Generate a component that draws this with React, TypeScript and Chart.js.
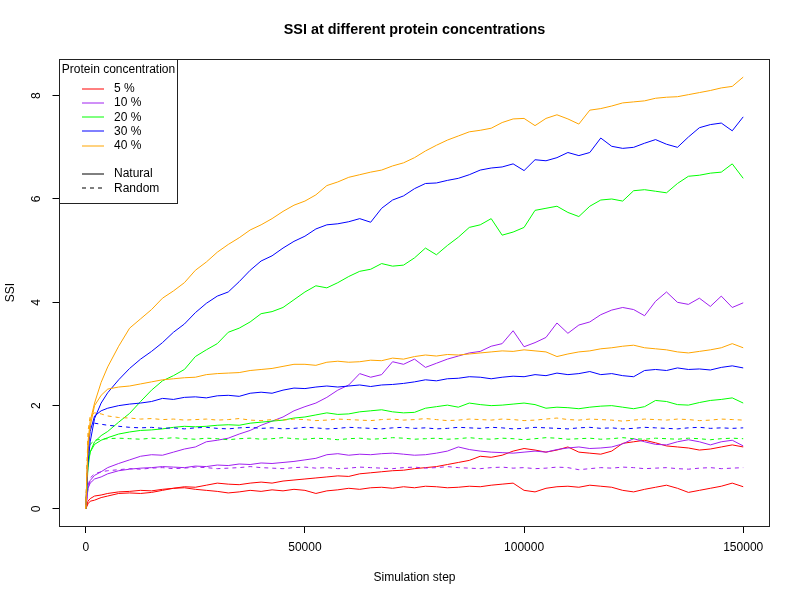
import { useEffect, useRef } from 'react';
import { Chart, registerables } from 'chart.js';

Chart.register(...registerables);

// ---- data ----
const steps = [
  0, 500, 1000, 2000, 3500, 5000, 7500, 10000, 12500, 15000, 17500, 20000, 22500, 25000,
  27500, 30000, 32500, 35000, 37500, 40000, 42500, 45000, 47500, 50000, 52500, 55000,
  57500, 60000, 62500, 65000, 67500, 70000, 72500, 75000, 77500, 80000, 82500, 85000,
  87500, 90000, 92500, 95000, 97500, 100000, 102500, 105000, 107500, 110000, 112500,
  115000, 117500, 120000, 122500, 125000, 127500, 130000, 132500, 135000, 137500,
  140000, 142500, 145000, 147500, 150000,
];

const xTicks = [0, 50000, 100000, 150000];
const yTicks = [0, 2, 4, 6, 8];

const concLabels = ['5 %', '10 %', '20 %', '30 %', '40 %'];
const concColors = ['#FF0000', '#A020F0', '#00FF00', '#0000FF', '#FFA500'];
const typeLabels = ['Natural', 'Random'];

// 40 %
const orangeNatural = [0, 1.3, 1.7, 2.05, 2.45, 2.75, 3.15, 3.5, 3.68, 3.86, 4.08, 4.22, 4.38, 4.62, 4.78, 4.97, 5.12, 5.25, 5.4, 5.5, 5.62, 5.76, 5.88, 5.96, 6.08, 6.26, 6.33, 6.42, 6.47, 6.52, 6.56, 6.64, 6.7, 6.8, 6.93, 7.04, 7.14, 7.22, 7.3, 7.33, 7.37, 7.48, 7.55, 7.56, 7.42, 7.56, 7.63, 7.55, 7.45, 7.72, 7.75, 7.8, 7.86, 7.88, 7.9, 7.95, 7.97, 7.98, 8.02, 8.06, 8.1, 8.15, 8.18, 8.36];
const orangeNatural2 = [0, 1.2, 1.6, 2.0, 2.2, 2.32, 2.36, 2.38, 2.42, 2.46, 2.5, 2.52, 2.54, 2.55, 2.6, 2.62, 2.63, 2.64, 2.68, 2.7, 2.72, 2.76, 2.8, 2.8, 2.78, 2.84, 2.86, 2.84, 2.85, 2.88, 2.87, 2.92, 2.9, 2.95, 2.98, 2.96, 2.99, 2.98, 3.0, 3.02, 3.04, 3.06, 3.05, 3.08, 3.06, 3.04, 2.95, 3.0, 3.04, 3.06, 3.1, 3.12, 3.15, 3.17, 3.12, 3.1, 3.08, 3.04, 3.02, 3.05, 3.08, 3.12, 3.2, 3.12];
const orangeRandom = [0, 1.5, 1.8, 1.86, 1.84, 1.8, 1.77, 1.76, 1.74, 1.75, 1.73, 1.74, 1.72, 1.73, 1.74, 1.72, 1.73, 1.75, 1.72, 1.71, 1.73, 1.72, 1.74, 1.73, 1.71, 1.72, 1.74, 1.73, 1.72, 1.71, 1.73, 1.74, 1.72, 1.73, 1.75, 1.73, 1.71, 1.72, 1.74, 1.73, 1.72, 1.74, 1.73, 1.71, 1.72, 1.74, 1.76, 1.73, 1.72, 1.74, 1.73, 1.72, 1.7, 1.72, 1.74, 1.73, 1.72, 1.74, 1.73, 1.71, 1.72, 1.74, 1.73, 1.72];

// 30 %
const blueNatural = [0, 0.9, 1.3, 1.75, 2.05, 2.25, 2.5, 2.72, 2.9, 3.05, 3.22, 3.42, 3.58, 3.8, 3.98, 4.12, 4.2, 4.4, 4.62, 4.8, 4.9, 5.05, 5.18, 5.28, 5.42, 5.5, 5.52, 5.56, 5.62, 5.55, 5.82, 5.98, 6.06, 6.2, 6.3, 6.31, 6.36, 6.4, 6.47, 6.56, 6.6, 6.62, 6.68, 6.55, 6.76, 6.74, 6.8, 6.9, 6.84, 6.9, 7.18, 7.02, 6.98, 7.0, 7.08, 7.15, 7.06, 7.0, 7.2, 7.38, 7.44, 7.47, 7.32, 7.59];
const blueNatural2 = [0, 1.1, 1.5, 1.8, 1.9, 1.95, 2.0, 2.03, 2.05, 2.08, 2.14, 2.12, 2.16, 2.17, 2.15, 2.19, 2.2, 2.18, 2.24, 2.26, 2.24, 2.3, 2.34, 2.33, 2.36, 2.38, 2.36, 2.38, 2.4, 2.37, 2.4, 2.41, 2.43, 2.46, 2.5, 2.48, 2.52, 2.53, 2.56, 2.55, 2.52, 2.55, 2.57, 2.56, 2.6, 2.58, 2.63, 2.6, 2.62, 2.66, 2.6, 2.62, 2.58, 2.56, 2.68, 2.7, 2.68, 2.73, 2.7, 2.71, 2.69, 2.74, 2.77, 2.73];
const blueRandom = [0, 1.3, 1.6, 1.66, 1.64, 1.62, 1.6, 1.58, 1.57, 1.58, 1.56, 1.57, 1.55, 1.57, 1.58, 1.56, 1.55, 1.57, 1.58, 1.56, 1.57, 1.55, 1.56, 1.58, 1.57, 1.55, 1.56, 1.58, 1.57, 1.56, 1.55, 1.57, 1.58, 1.56, 1.57, 1.55, 1.56, 1.58, 1.57, 1.56, 1.58, 1.57, 1.55, 1.56, 1.58, 1.57, 1.56, 1.55, 1.57, 1.58, 1.56, 1.57, 1.55, 1.56, 1.58, 1.57, 1.56, 1.55, 1.57, 1.58, 1.56, 1.57, 1.56, 1.57];

// 20 %
const greenNatural = [0, 0.9, 1.1, 1.3, 1.42, 1.5, 1.68, 1.85, 2.08, 2.3, 2.48, 2.58, 2.7, 2.95, 3.08, 3.2, 3.42, 3.5, 3.62, 3.78, 3.82, 3.9, 4.05, 4.2, 4.32, 4.28, 4.38, 4.5, 4.6, 4.64, 4.75, 4.7, 4.72, 4.86, 5.05, 4.92, 5.1, 5.26, 5.45, 5.5, 5.62, 5.3, 5.36, 5.45, 5.78, 5.82, 5.86, 5.74, 5.66, 5.86, 5.98, 6.0, 5.96, 6.16, 6.18, 6.15, 6.12, 6.3, 6.44, 6.46, 6.5, 6.52, 6.68, 6.4];
const greenNatural2 = [0, 0.8, 1.1, 1.25, 1.33, 1.38, 1.45, 1.49, 1.52, 1.53, 1.55, 1.58, 1.6, 1.59, 1.6, 1.62, 1.63, 1.62, 1.66, 1.68, 1.7, 1.72, 1.76, 1.78, 1.82, 1.86, 1.83, 1.84, 1.88, 1.9, 1.92, 1.88, 1.86, 1.87, 1.95, 1.98, 2.01, 1.97, 2.05, 2.02, 2.0, 2.01, 2.03, 2.05, 2.02, 1.95, 1.97, 1.96, 1.94, 1.97, 1.99, 2.0, 1.97, 1.94, 1.98, 2.1, 2.08, 2.02, 2.01, 2.06, 2.1, 2.12, 2.15, 2.05];
const greenRandom = [0, 1.0, 1.25, 1.33, 1.35, 1.36, 1.37, 1.36, 1.35, 1.37, 1.36, 1.38, 1.36, 1.35, 1.37, 1.36, 1.34, 1.36, 1.37, 1.35, 1.36, 1.38, 1.36, 1.35, 1.37, 1.36, 1.34, 1.36, 1.37, 1.35, 1.36, 1.38, 1.37, 1.35, 1.36, 1.37, 1.35, 1.36, 1.38, 1.36, 1.35, 1.37, 1.36, 1.34, 1.36, 1.38, 1.37, 1.35, 1.36, 1.37, 1.35, 1.36, 1.38, 1.36, 1.35, 1.37, 1.36, 1.35, 1.37, 1.36, 1.34, 1.36, 1.37, 1.36];

// 10 %
const purpleNatural = [0, 0.4, 0.55, 0.65, 0.72, 0.8, 0.88, 0.95, 1.02, 1.05, 1.04, 1.1, 1.16, 1.2, 1.3, 1.33, 1.37, 1.45, 1.52, 1.62, 1.7, 1.78, 1.9, 1.98, 2.05, 2.16, 2.3, 2.4, 2.62, 2.55, 2.6, 2.85, 2.8, 2.9, 2.74, 2.82, 2.9, 2.96, 3.02, 3.05, 3.15, 3.2, 3.45, 3.14, 3.22, 3.32, 3.6, 3.4, 3.56, 3.62, 3.76, 3.85, 3.9, 3.86, 3.74, 4.02, 4.2, 4.0, 3.96, 4.08, 3.92, 4.12, 3.9, 3.99];
const purpleNatural2 = [0, 0.4, 0.5, 0.58, 0.62, 0.68, 0.74, 0.77, 0.79, 0.8, 0.82, 0.81, 0.8, 0.83, 0.82, 0.85, 0.84, 0.87, 0.86, 0.89, 0.88, 0.9, 0.92, 0.95, 0.98, 1.05, 1.07, 1.04, 1.06, 1.05, 1.07, 1.08, 1.06, 1.04, 1.05, 1.08, 1.12, 1.2, 1.15, 1.12, 1.1, 1.09, 1.08, 1.1, 1.12, 1.1, 1.15, 1.18, 1.2, 1.17, 1.18, 1.2, 1.26, 1.36, 1.3, 1.25, 1.24, 1.3, 1.34, 1.3, 1.24, 1.3, 1.33, 1.22];
const purpleRandom = [0, 0.45, 0.6, 0.68, 0.72, 0.74, 0.76, 0.78, 0.77, 0.79, 0.8, 0.78, 0.79, 0.81, 0.8, 0.78, 0.79, 0.8, 0.82, 0.8, 0.79, 0.78, 0.8, 0.81, 0.79, 0.8, 0.78, 0.79, 0.81, 0.8, 0.79, 0.78, 0.8, 0.81, 0.79, 0.8, 0.82, 0.8, 0.79, 0.78, 0.8, 0.81, 0.79, 0.8, 0.78, 0.79, 0.81, 0.8, 0.76, 0.78, 0.8, 0.79, 0.81, 0.8, 0.78, 0.79, 0.8, 0.78, 0.77, 0.79, 0.8, 0.78, 0.79, 0.8];

// 5 %
const redNatural = [0, 0.15, 0.2, 0.25, 0.27, 0.3, 0.33, 0.34, 0.36, 0.35, 0.38, 0.4, 0.43, 0.42, 0.46, 0.5, 0.48, 0.47, 0.5, 0.52, 0.5, 0.54, 0.56, 0.58, 0.6, 0.62, 0.64, 0.63, 0.68, 0.7, 0.72, 0.74, 0.75, 0.78, 0.8, 0.82, 0.86, 0.9, 0.94, 1.02, 1.0, 1.04, 1.12, 1.17, 1.14, 1.1, 1.14, 1.2, 1.1, 1.08, 1.06, 1.12, 1.27, 1.3, 1.33, 1.28, 1.22, 1.2, 1.18, 1.14, 1.16, 1.2, 1.24, 1.2];
const redNatural2 = [0, 0.1, 0.15, 0.17, 0.22, 0.25, 0.3, 0.31, 0.3, 0.32, 0.36, 0.4, 0.41, 0.38, 0.36, 0.34, 0.31, 0.33, 0.36, 0.34, 0.37, 0.35, 0.38, 0.36, 0.3, 0.35, 0.37, 0.4, 0.38, 0.41, 0.42, 0.4, 0.43, 0.41, 0.44, 0.43, 0.41, 0.42, 0.44, 0.43, 0.46, 0.48, 0.5, 0.36, 0.33, 0.4, 0.43, 0.44, 0.42, 0.46, 0.44, 0.42, 0.36, 0.33, 0.38, 0.42, 0.46, 0.4, 0.32, 0.36, 0.4, 0.44, 0.5, 0.43];

const FONT = '"Liberation Sans", Arial, Helvetica, sans-serif';

type SeriesDef = { values: number[]; color: string; dashed: boolean };

// drawn order: first in list ends up on top in Chart.js
const series: SeriesDef[] = [
  { values: orangeNatural, color: concColors[4], dashed: false },
  { values: orangeNatural2, color: concColors[4], dashed: false },
  { values: orangeRandom, color: concColors[4], dashed: true },
  { values: blueNatural, color: concColors[3], dashed: false },
  { values: blueNatural2, color: concColors[3], dashed: false },
  { values: blueRandom, color: concColors[3], dashed: true },
  { values: greenNatural, color: concColors[2], dashed: false },
  { values: greenNatural2, color: concColors[2], dashed: false },
  { values: greenRandom, color: concColors[2], dashed: true },
  { values: purpleNatural, color: concColors[1], dashed: false },
  { values: purpleNatural2, color: concColors[1], dashed: false },
  { values: purpleRandom, color: concColors[1], dashed: true },
  { values: redNatural, color: concColors[0], dashed: false },
  { values: redNatural2, color: concColors[0], dashed: false },
];

const overlayPlugin = {
  id: 'rOverlay',
  afterDraw(chart: any) {
    const ctx = chart.ctx as CanvasRenderingContext2D;
    const { left, right, top, bottom } = chart.chartArea;
    const yScale = chart.scales.y;
    ctx.save();

    // plot box
    ctx.strokeStyle = '#222';
    ctx.lineWidth = 1;
    const bl = Math.floor(left) + 0.5;
    const bt = Math.floor(top) + 0.5;
    const br = Math.floor(right) + 0.5;
    const bb = Math.floor(bottom) + 0.5;
    ctx.strokeRect(bl, bt, br - bl, bb - bt);

    // y tick labels (rotated, like R's las = 0)
    ctx.fillStyle = '#000';
    ctx.font = `12px ${FONT}`;
    ctx.textAlign = 'center';
    ctx.textBaseline = 'middle';
    yTicks.forEach((v) => {
      const py = yScale.getPixelForValue(v);
      ctx.save();
      ctx.translate(37, py);
      ctx.rotate(-Math.PI / 2);
      ctx.fillText(String(v), 0, 0);
      ctx.restore();
    });

    // titles
    const cx = (left + right) / 2;
    ctx.font = `bold 14.4px ${FONT}`;
    ctx.fillText('SSI at different protein concentrations', cx, 30);
    ctx.font = `12px ${FONT}`;
    ctx.fillText('Simulation step', cx, 578);
    ctx.save();
    ctx.translate(11, (top + bottom) / 2);
    ctx.rotate(-Math.PI / 2);
    ctx.fillText('SSI', 0, 0);
    ctx.restore();

    // legend
    const lx0 = 59.5, ly0 = 59.5, lx1 = 177.5, ly1 = 203.5;
    ctx.fillStyle = '#fff';
    ctx.fillRect(lx0, ly0, lx1 - lx0, ly1 - ly0);
    ctx.strokeStyle = '#222';
    ctx.strokeRect(lx0, ly0, lx1 - lx0, ly1 - ly0);
    ctx.fillStyle = '#000';
    ctx.textAlign = 'center';
    ctx.fillText('Protein concentration', (lx0 + lx1) / 2, 70);
    ctx.textAlign = 'left';
    const rowY = (i: number) => 88.8 + 14.2 * i;
    concLabels.forEach((lab, i) => {
      const y = Math.round(rowY(i));
      ctx.strokeStyle = concColors[i];
      ctx.setLineDash([]);
      ctx.beginPath();
      ctx.moveTo(82, y);
      ctx.lineTo(104, y);
      ctx.stroke();
      ctx.fillText(lab, 114, rowY(i));
    });
    typeLabels.forEach((lab, j) => {
      const i = 6 + j;
      const y = Math.round(rowY(i));
      ctx.strokeStyle = '#000';
      ctx.setLineDash(j === 1 ? [4, 4] : []);
      ctx.beginPath();
      ctx.moveTo(82, y);
      ctx.lineTo(104, y);
      ctx.stroke();
      ctx.setLineDash([]);
      ctx.fillText(lab, 114, rowY(i));
    });

    ctx.restore();
  },
};

export default function App() {
  const canvasRef = useRef<HTMLCanvasElement | null>(null);

  useEffect(() => {
    document.body.style.margin = '0';
    const canvas = canvasRef.current;
    if (!canvas) return;

    const datasets = series.map((s) => ({
      data: steps.map((x, i) => ({ x, y: s.values[i] })),
      borderColor: s.color,
      backgroundColor: s.color,
      borderWidth: 1,
      borderDash: s.dashed ? [4, 4] : [],
      pointRadius: 0,
      tension: 0,
      fill: false,
    }));

    const chart = new Chart(canvas, {
      type: 'line',
      data: { datasets },
      options: {
        responsive: false,
        animation: false,
        layout: { padding: { left: 0, top: 59, right: 30.5, bottom: 0 } },
        plugins: {
          legend: { display: false },
          tooltip: { enabled: false },
          title: { display: false },
        },
        scales: {
          x: {
            type: 'linear',
            min: -6000,
            max: 156000,
            afterBuildTicks: (s: any) => {
              s.ticks = xTicks.map((v) => ({ value: v }));
            },
            afterFit: (s: any) => {
              s.height = 74;
            },
            grid: { display: true, drawOnChartArea: false, drawTicks: true, tickLength: 7, color: '#000', lineWidth: 1 },
            border: { display: false },
            ticks: {
              color: '#000',
              font: { family: FONT, size: 12 },
              padding: 7,
              maxRotation: 0,
              minRotation: 0,
              autoSkip: false,
              callback: (v: any) => String(v),
            },
          },
          y: {
            type: 'linear',
            min: -0.33,
            max: 8.71,
            afterBuildTicks: (s: any) => {
              s.ticks = yTicks.map((v) => ({ value: v }));
            },
            afterFit: (s: any) => {
              s.width = 59.5;
            },
            grid: { display: true, drawOnChartArea: false, drawTicks: true, tickLength: 7, color: '#000', lineWidth: 1 },
            border: { display: false },
            ticks: { display: false },
          },
        },
      },
      plugins: [overlayPlugin],
    } as any);

    return () => {
      chart.destroy();
    };
  }, []);

  return (
    <div style={{ position: 'absolute', left: 0, top: 0, width: 800, height: 600, background: '#fff' }}>
      <canvas ref={canvasRef} width={800} height={600} style={{ display: 'block', width: 800, height: 600 }} />
    </div>
  );
}
